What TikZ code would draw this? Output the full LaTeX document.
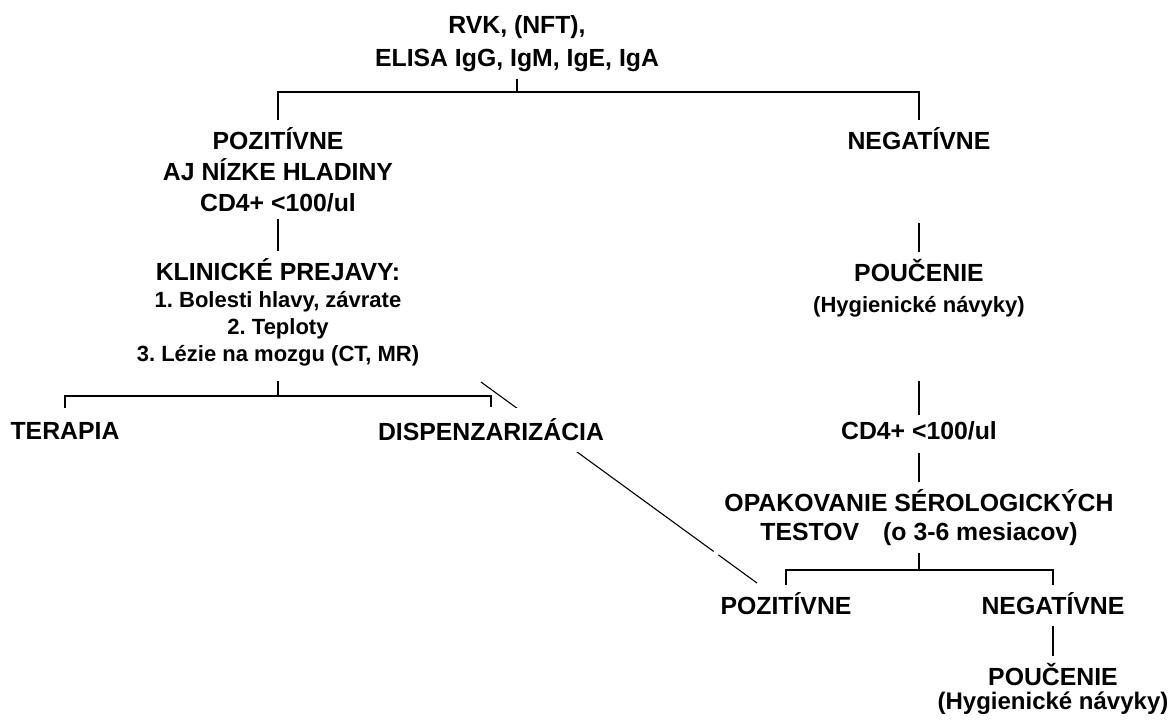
\documentclass[tikz,border=0pt]{standalone}
\usepackage{fontspec}
\setmainfont{Liberation Sans}
\usetikzlibrary{calc}
\frenchspacing

\begin{document}
\begin{tikzpicture}
  [x=0.5pt,y=-0.5pt,line width=0.55pt,
   every node/.style={align=center,font=\bfseries\fontsize{12.4}{15.5}\selectfont},
   smalltxt/.style={font=\bfseries\fontsize{11}{13.5}\selectfont}]
  \useasboundingbox (0,0) rectangle (1174,720);

  % diagonal line behind DISPENZARIZACIA
  \coordinate (dstart) at (481,382);
  \coordinate (dend) at (757,583);
  \draw (dstart) -- ($(dstart)!0.843!(dend)$) ($(dstart)!0.860!(dend)$) -- (dend);

  \node[font=\bfseries\fontsize{12.4}{16.25}\selectfont] (tests) at (517,43.7) {RVK, (NFT),\\ELISA IgG, IgM, IgE, IgA};
  \node (pos) at (278,169.8) {POZITÍVNE\\AJ NÍZKE HLADINY\\CD4+ <100/ul};
  \node (neg) at (919,138.5) {NEGATÍVNE};
  \node[smalltxt] (klin) at (278,312.3) {{\fontsize{12.4}{13.5}\selectfont KLINICKÉ PREJAVY:}\\1. Bolesti hlavy, závrate\\2. Teploty\\3. Lézie na mozgu (CT, MR)};
  \node[minimum height=22pt] (ther) at (65,431) {TERAPIA};
  \node[minimum height=22pt,fill=white] (disp) at (491,430) {DISPENZARIZÁCIA};
  \node (pouc) at (919,288.3) {POUČENIE\\{\fontsize{11}{15.5}\selectfont (Hygienické návyky)}};
  \node (cd4) at (919,431) {CD4+ <100/ul};
  \node[font=\bfseries\fontsize{12.4}{14.5}\selectfont] (opak) at (919,517.6) {OPAKOVANIE SÉROLOGICKÝCH\\TESTOV\hspace{12pt}(o 3-6 mesiacov)};
  \node (pos2) at (786,603.5) {POZITÍVNE};
  \node (neg2) at (1053,603.5) {NEGATÍVNE};
  \node[font=\bfseries\fontsize{12.4}{12}\selectfont] (pouc2) at (1053,688.8) {POUČENIE\\{\fontsize{12}{12}\selectfont (Hygienické návyky)}};

  % forks
  \coordinate (topbar) at (tests.south |- 0,92);
  \coordinate (klinbar) at (klin.south |- 0,396);
  \coordinate (opakbar) at (opak.south |- 0,570);
  \draw (tests.south) -- (topbar);
  \draw (pos.north) |- (topbar) -| (neg.north);
  \draw[shorten <=4pt] (klin.south) -- (klinbar);
  \draw (ther.north) |- (klinbar) -| (disp.north);
  \draw (opak.south) -- (opakbar);
  \draw (pos2.north) |- (opakbar) -| (neg2.north);

  \foreach \from/\to/\gap in {pos/klin/0pt,neg/pouc/33pt,pouc/cd4/28.5pt,cd4/opak/3pt,neg2/pouc2/2pt}
    \draw[shorten <=\gap] (\from) -- (\to);
\end{tikzpicture}
\end{document}
